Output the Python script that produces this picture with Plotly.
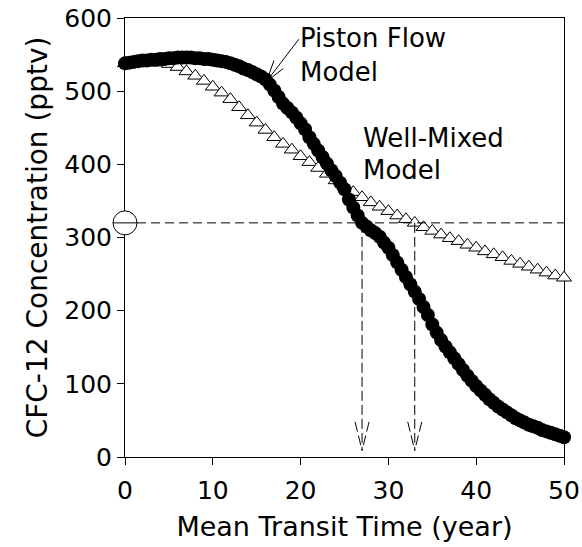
import plotly.graph_objects as go

# ---------------- data ----------------
# Piston flow model (filled circles), every half year
piston_time = [0.0, 0.5, 1.0, 1.5, 2.0, 2.5, 3.0, 3.5, 4.0, 4.5, 5.0, 5.5, 6.0, 6.5, 7.0, 7.5,
               8.0, 8.5, 9.0, 9.5, 10.0, 10.5, 11.0, 11.5, 12.0, 12.5, 13.0, 13.5, 14.0, 14.5,
               15.0, 15.5, 16.0, 16.5, 17.0, 17.5, 18.0, 18.5, 19.0, 19.5, 20.0, 20.5, 21.0,
               21.5, 22.0, 22.5, 23.0, 23.5, 24.0, 24.5, 25.0, 25.5, 26.0, 26.5, 27.0, 27.5,
               28.0, 28.5, 29.0, 29.5, 30.0, 30.5, 31.0, 31.5, 32.0, 32.5, 33.0, 33.5, 34.0,
               34.5, 35.0, 35.5, 36.0, 36.5, 37.0, 37.5, 38.0, 38.5, 39.0, 39.5, 40.0, 40.5,
               41.0, 41.5, 42.0, 42.5, 43.0, 43.5, 44.0, 44.5, 45.0, 45.5, 46.0, 46.5, 47.0,
               47.5, 48.0, 48.5, 49.0, 49.5, 50.0]
piston_conc = [538, 539, 540, 541, 542, 542, 543, 543, 544, 544, 545, 545, 546, 546, 546, 546,
               545, 545, 544, 544, 543, 542, 541, 540, 538, 536, 534, 531, 529, 526,
               523, 520, 516, 509, 501, 492, 483, 477, 471, 464, 456, 448, 437,
               428, 419, 410, 401, 392, 384, 375, 366, 352, 341, 330, 320, 315,
               310, 306, 301, 293, 286, 276, 266, 256, 246, 236, 226, 216, 205,
               194, 181, 170, 160, 151, 143, 135, 127, 119, 111, 104, 97, 91,
               85, 79, 74, 69, 65, 61, 57, 53, 50, 47, 44, 42, 40,
               37, 35, 33, 31, 29, 27]

# Well-mixed (exponential) model (open triangles), every year
mixed_time = [0, 1, 2, 3, 4, 5, 6, 7, 8, 9, 10, 11, 12, 13, 14, 15, 16, 17, 18, 19, 20,
              21, 22, 23, 24, 25, 26, 27, 28, 29, 30, 31, 32, 33, 34, 35, 36, 37, 38, 39,
              40, 41, 42, 43, 44, 45, 46, 47, 48, 49, 50]
mixed_conc = [538, 538, 540, 540, 539, 537, 533, 527, 521, 514, 506, 498, 489, 478, 467,
              457, 447, 437, 428, 420, 411, 403, 395, 387, 378, 370, 362, 355, 348, 342,
              336, 330, 325, 320, 314, 309, 304, 299, 295, 290, 286, 281, 277, 273, 268,
              264, 260, 256, 252, 248, 245]

# measured concentration and the two apparent transit times
measured_conc = 320
apparent_times = [27, 33]

x_ticks = [0, 10, 20, 30, 40, 50]
y_ticks = [0, 100, 200, 300, 400, 500, 600]

FONT = "DejaVu Sans"
W, H = 582, 547
ML, MR, MT, MB = 125, 18, 18, 90
PW, PH = W - ML - MR, H - MT - MB
XMAX, YMAX = 50, 600
px_x = XMAX / PW   # data units per pixel

fig = go.Figure()

fig.add_trace(go.Scatter(
    x=mixed_time, y=mixed_conc, mode="markers",
    marker=dict(symbol="triangle-up", size=13, color="white",
                line=dict(color="black", width=1)),
    cliponaxis=False, showlegend=False))

fig.add_trace(go.Scatter(
    x=piston_time, y=piston_conc, mode="markers",
    marker=dict(symbol="circle", size=14, color="black", line=dict(width=0)),
    cliponaxis=False, showlegend=False))

# open circle marking the measured value on the y axis
fig.add_trace(go.Scatter(
    x=[0], y=[measured_conc], mode="markers",
    marker=dict(symbol="circle", size=24, color="white",
                line=dict(color="black", width=1)),
    cliponaxis=False, showlegend=False))

shapes = []
r_circ = 12
# solid bar through the circle
shapes.append(dict(type="line", xref="paper", yref="paper",
                   x0=-r_circ / PW, x1=r_circ / PW,
                   y0=measured_conc / YMAX, y1=measured_conc / YMAX,
                   line=dict(color="black", width=1), layer="above"))
# horizontal dashed line
shapes.append(dict(type="line", xref="x", yref="y",
                   x0=r_circ * px_x, x1=XMAX, y0=measured_conc, y1=measured_conc,
                   line=dict(color="black", width=1, dash="9px,5px"), layer="above"))

tip_v = 9
barb_top_v = 48
barb_dx = 7 * px_x
for t in apparent_times:
    shapes.append(dict(type="line", xref="x", yref="y", x0=t, x1=t,
                       y0=measured_conc, y1=tip_v,
                       line=dict(color="black", width=1, dash="10px,4px"), layer="above"))
    for s in (-1, 1):
        shapes.append(dict(type="line", xref="x", yref="y",
                           x0=t + s * barb_dx, y0=barb_top_v, x1=t, y1=tip_v,
                           line=dict(color="black", width=1, dash="10px,4px"), layer="above"))

# label arrow for the piston flow model
arrow_tail = (19.8, 571)
arrow_tip = (16.1, 513)
arrow_barbs = [(16.97, 542), (18.03, 531)]
shapes.append(dict(type="line", xref="x", yref="y",
                   x0=arrow_tail[0], y0=arrow_tail[1], x1=arrow_tip[0], y1=arrow_tip[1],
                   line=dict(color="black", width=1), layer="above"))
for bx, by in arrow_barbs:
    shapes.append(dict(type="line", xref="x", yref="y",
                       x0=bx, y0=by, x1=arrow_tip[0], y1=arrow_tip[1],
                       line=dict(color="black", width=1), layer="above"))

fig.update_layout(shapes=shapes)

label_font = dict(family=FONT, size=26, color="black")
labels = [("Piston Flow", 19.7, 572), ("Model", 19.7, 526),
          ("Well-Mixed", 26.9, 436), ("Model", 26.9, 392)]
for txt, lx, ly in labels:
    fig.add_annotation(x=lx, y=ly, xref="x", yref="y", text=txt, showarrow=False,
                       xanchor="left", yanchor="middle", font=label_font)

axis_common = dict(showline=True, linecolor="black", linewidth=1, mirror=True,
                   ticks="outside", ticklen=7, tickwidth=1, tickcolor="black",
                   showgrid=False, zeroline=False, layer="below traces",
                   ticklabeloverflow="allow",
                   tickfont=dict(family=FONT, size=25, color="black"))

fig.update_xaxes(range=[0, XMAX], tickvals=x_ticks, ticktext=[str(v) for v in x_ticks],
                 ticklabelstandoff=4,
                 title=dict(text="Mean Transit Time (year)",
                            font=dict(family=FONT, size=27, color="black"), standoff=13),
                 **axis_common)
fig.update_yaxes(range=[0, YMAX], tickvals=y_ticks, ticktext=[str(v) for v in y_ticks],
                 title=dict(text="CFC-12 Concentration (pptv)",
                            font=dict(family=FONT, size=28, color="black"), standoff=8),
                 **axis_common)

fig.update_layout(width=W, height=H, margin=dict(l=ML, r=MR, t=MT, b=MB, autoexpand=False),
                  paper_bgcolor="white", plot_bgcolor="white")

fig.write_html("out.html", config={"displayModeBar": False},
               post_script="document.body.style.margin='0';document.body.style.overflow='hidden';")
